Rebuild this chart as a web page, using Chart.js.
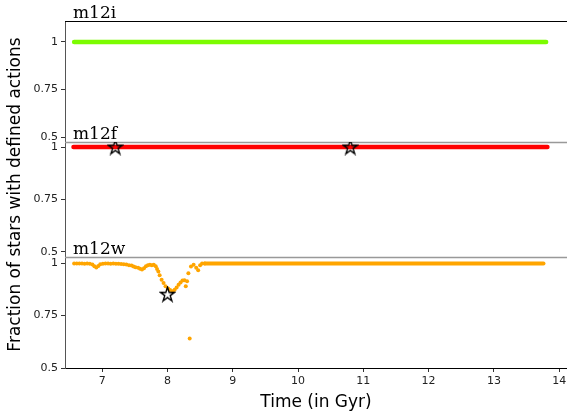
<!DOCTYPE html>
<html>
<head>
<meta charset="utf-8">
<script src="https://cdn.jsdelivr.net/npm/chart.js@4.4.1/dist/chart.umd.min.js"></script>
<style>
  html, body { margin: 0; padding: 0; background: #fff; }
</style>
</head>
<body>
<canvas id="fractionChart" width="567" height="419"></canvas>
<script>
// Fraction of star particles with defined actions, per simulation
var panelNames = ['m12i', 'm12f', 'm12w'];
var timeTicks = [7, 8, 9, 10, 11, 12, 13, 14];
var fractionTicks = [0.5, 0.75, 1];

// m12i and m12f stay at 1 over the whole snapshot range
var m12iTimes = [6.57, 13.8];
var m12iFraction = [1, 1];
var m12fTimes = [6.56, 13.82];
var m12fFraction = [1, 1];
var m12fStarTimes = [7.2, 10.8];
var m12fStarFraction = [1, 1];

// m12w snapshots through the merger dip
var m12wTimes = [
  6.57, 6.61, 6.65, 6.69, 6.73, 6.77, 6.81, 6.85, 6.88, 6.91, 6.94, 6.97,
  7.01, 7.05, 7.09, 7.13, 7.17, 7.21, 7.25, 7.29, 7.33, 7.37, 7.41, 7.45,
  7.48, 7.51, 7.55, 7.58, 7.61, 7.64, 7.67, 7.70, 7.73, 7.76, 7.79, 7.82,
  7.84, 7.86, 7.88, 7.91, 7.94, 7.97, 8.01, 8.04, 8.08, 8.11, 8.14, 8.17,
  8.20, 8.23, 8.26, 8.28, 8.30, 8.32, 8.34, 8.36, 8.40, 8.44, 8.47, 8.50,
  8.53, 8.57
];
var m12wFraction = [
  0.998, 0.998, 0.998, 0.998, 0.997, 0.998, 0.997, 0.993, 0.985, 0.979, 0.986, 0.994,
  0.997, 0.998, 0.998, 0.997, 0.998, 0.997, 0.997, 0.996, 0.995, 0.993, 0.990, 0.988,
  0.984, 0.980, 0.978, 0.973, 0.970, 0.975, 0.985, 0.990, 0.992, 0.990, 0.992, 0.985,
  0.972, 0.960, 0.942, 0.921, 0.905, 0.890, 0.879, 0.872, 0.866, 0.873, 0.884, 0.897,
  0.908, 0.917, 0.918, 0.890, 0.913, 0.952, 0.640, 0.984, 0.992, 0.978, 0.966, 0.990,
  0.998, 0.998
];
// after the dip m12w stays flat
var m12wTailTimes = [8.57, 13.76];
var m12wTailFraction = [0.998, 0.998];
var m12wStarTimes = [8.0];
var m12wStarFraction = [0.852];

function pairs(xs, ys) {
  return xs.map(function (x, i) { return { x: x, y: ys[i] }; });
}

// open five-point star marker
function makeStar(size) {
  var c = document.createElement('canvas');
  c.width = c.height = size;
  var ctx = c.getContext('2d');
  var R = size / 2 - 1, r = R * 0.382, cx = size / 2, cy = size / 2 + 0.5;
  ctx.beginPath();
  for (var i = 0; i < 10; i++) {
    var rad = i % 2 ? r : R;
    var a = -Math.PI / 2 + i * Math.PI / 5;
    ctx.lineTo(cx + rad * Math.cos(a), cy + rad * Math.sin(a));
  }
  ctx.closePath();
  ctx.lineWidth = 1.4;
  ctx.strokeStyle = '#000';
  ctx.stroke();
  return c;
}
var starMarker = makeStar(17);

function panelAxis(min, max, weight) {
  return {
    type: 'linear',
    position: 'left',
    stack: 'panels',
    stackWeight: weight,
    min: min,
    max: max,
    bounds: 'data',
    afterBuildTicks: function (s) {
      s.ticks = fractionTicks.map(function (v) { return { value: v }; });
    },
    afterFit: function (s) { s.width = 45; },
    border: { color: '#555', width: 1 },
    grid: { drawOnChartArea: false, tickLength: 4, color: '#333' },
    ticks: {
      color: '#222',
      font: { size: 11 },
      padding: 3,
      callback: function (v) { return String(v); }
    }
  };
}

// dividers, panel names and the shared y title
var panelFrame = {
  id: 'panelFrame',
  beforeDatasetsDraw: function (chart) {
    var ctx = chart.ctx, area = chart.chartArea;
    ['yI', 'yF', 'yW'].forEach(function (id, i) {
      var s = chart.scales[id];
      ctx.save();
      ctx.strokeStyle = i === 0 ? '#000' : '#999';
      ctx.lineWidth = i === 0 ? 1.2 : 1.5;
      ctx.beginPath();
      ctx.moveTo(area.left, s.top + 0.5);
      ctx.lineTo(area.right, s.top + 0.5);
      ctx.stroke();
      ctx.fillStyle = '#000';
      ctx.font = '17px "DejaVu Serif"';
      ctx.textBaseline = 'alphabetic';
      ctx.fillText(panelNames[i], area.left + 8, s.top - 3);
      ctx.restore();
    });
  },
  afterDraw: function (chart) {
    var ctx = chart.ctx, area = chart.chartArea;
    ctx.save();
    ctx.translate(16, (area.top + area.bottom) / 2);
    ctx.rotate(-Math.PI / 2);
    ctx.fillStyle = '#000';
    ctx.font = '17px "DejaVu Sans"';
    ctx.textAlign = 'center';
    ctx.textBaseline = 'middle';
    ctx.fillText('Fraction of stars with defined actions', 0, 0);
    ctx.restore();
  }
};

Chart.defaults.font.family = '"DejaVu Sans"';

var fractionChart = new Chart(document.getElementById('fractionChart'), {
  type: 'line',
  data: {
    datasets: [
      {
        label: 'm12f stars', data: pairs(m12fStarTimes, m12fStarFraction), yAxisID: 'yF',
        showLine: false, pointStyle: starMarker, pointRadius: 8, order: 0
      },
      {
        label: 'm12w star', data: pairs(m12wStarTimes, m12wStarFraction), yAxisID: 'yW',
        showLine: false, pointStyle: starMarker, pointRadius: 8, order: 0
      },
      {
        label: 'm12i', data: pairs(m12iTimes, m12iFraction), yAxisID: 'yI',
        borderColor: '#7cfc00', borderWidth: 4.5, borderCapStyle: 'round', pointRadius: 0, order: 1
      },
      {
        label: 'm12f', data: pairs(m12fTimes, m12fFraction), yAxisID: 'yF',
        borderColor: '#ff0000', borderWidth: 4.5, borderCapStyle: 'round', pointRadius: 0, order: 1
      },
      {
        label: 'm12w', data: pairs(m12wTimes, m12wFraction), yAxisID: 'yW',
        showLine: false, pointRadius: 2, pointBorderWidth: 0,
        pointBackgroundColor: '#ffa500', order: 1
      },
      {
        label: 'm12w tail', data: pairs(m12wTailTimes, m12wTailFraction), yAxisID: 'yW',
        borderColor: '#ffa500', borderWidth: 4, borderCapStyle: 'round', pointRadius: 0, order: 1
      }
    ]
  },
  options: {
    responsive: false,
    animation: false,
    events: [],
    layout: { autoPadding: false, padding: { left: 20, top: 21, right: 0, bottom: 0 } },
    plugins: { legend: { display: false }, tooltip: { enabled: false } },
    scales: {
      x: {
        type: 'linear',
        min: 6.43,
        max: 14.12,
        bounds: 'data',
        afterBuildTicks: function (s) {
          s.ticks = timeTicks.map(function (v) { return { value: v }; });
        },
        afterFit: function (s) { s.height = 51; s.paddingLeft = 0; s.paddingRight = 0; },
        border: { color: '#000', width: 1 },
        grid: { drawOnChartArea: false, tickLength: 4, color: '#333' },
        ticks: { color: '#222', font: { size: 11 }, padding: 3 },
        title: { display: true, text: 'Time (in Gyr)', color: '#000', font: { size: 17 }, padding: { top: 0, bottom: 6 } }
      },
      // stacked left axes are laid out bottom-up, so m12w comes first
      yW: panelAxis(0.5, 1.029, 111),
      yF: panelAxis(0.476, 1.024, 115),
      yI: panelAxis(0.474, 1.11, 121)
    }
  },
  plugins: [panelFrame]
});
</script>
</body>
</html>
